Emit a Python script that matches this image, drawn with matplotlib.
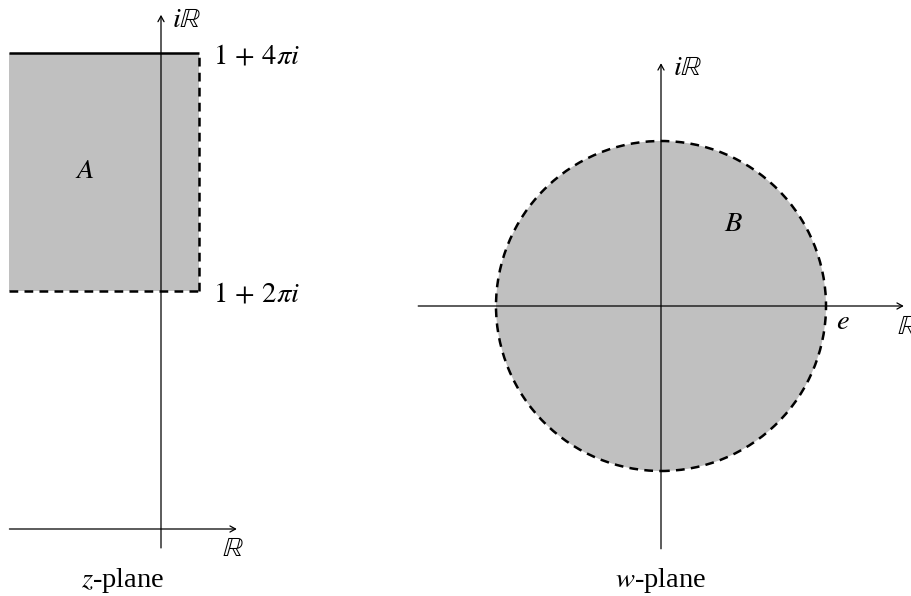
import numpy as np
import matplotlib.pyplot as plt
from matplotlib.patches import Rectangle, Circle

plt.rcParams['mathtext.fontset'] = 'stix'
plt.rcParams['font.family'] = 'Liberation Serif'

# z-plane: strip Re z < 1, 2pi < Im z < 4pi (cut at Re z = -4 in picture)
rect_x = [-4, 1]
rect_y = [2 * np.pi, 4 * np.pi]
z_xaxis = [-4, 2]
z_yaxis = [-0.5, 4 * np.pi + 1]
z_labels = [r'$1\,+\,4\pi i$', r'$1\,+\,2\pi i$']

# w-plane: disc of radius e
radius = np.e
w_axis = [-4, 4]

GRAY = '#c0c0c0'
FS = 20.5

fig = plt.figure(figsize=(9.11, 5.96), dpi=100)

# left panel, 37.9 px per unit, origin at pixel (161, 529)
s1 = 37.9
ax1 = fig.add_axes([0, 0, 320 / 911, 1])
ax1.set_xlim(-161 / s1, (320 - 161) / s1)
ax1.set_ylim(-(596 - 529) / s1, 529 / s1)
ax1.axis('off')

ax1.add_patch(Rectangle((rect_x[0], rect_y[0]), rect_x[1] - rect_x[0],
                        rect_y[1] - rect_y[0], fc=GRAY, ec='none'))
arr = dict(arrowstyle='->,head_length=0.4,head_width=0.22', lw=0.9, color='black',
           shrinkA=0, shrinkB=0)
ax1.annotate('', xy=(z_xaxis[1], 0), xytext=(z_xaxis[0], 0), arrowprops=arr)
ax1.annotate('', xy=(0, z_yaxis[1]), xytext=(0, z_yaxis[0]), arrowprops=arr)
ax1.plot(rect_x, [rect_y[1]] * 2, color='black', lw=1.8, solid_capstyle='butt')
ax1.plot([rect_x[1]] * 2, rect_y, color='black', lw=1.8, ls=(0, (3.5, 2.5)))
ax1.plot(rect_x, [rect_y[0]] * 2, color='black', lw=1.8, ls=(0, (3.5, 2.5)))

ax1.text(0.28, z_yaxis[1] - 0.15, r'$i\mathbb{R}$', fontsize=FS, va='center', ha='left')
ax1.text(1.37, rect_y[1] - 0.12, z_labels[0], fontsize=FS, va='center', ha='left')
ax1.text(1.37, rect_y[0] - 0.12, z_labels[1], fontsize=FS, va='center', ha='left')
ax1.text(-2, 3 * np.pi, r'$A$', fontsize=FS, va='center', ha='center')
ax1.text(1.9, -0.55, r'$\mathbb{R}$', fontsize=FS, va='center', ha='center')
ax1.text(-1.0, -1.35, r'$z$-plane', fontsize=FS, va='center', ha='center')

# right panel, 60.7 px per unit, origin at pixel (661, 306)
s2 = 60.7
ax2 = fig.add_axes([400 / 911, 0, 511 / 911, 1])
ax2.set_xlim(-(661 - 400) / s2, (911 - 661) / s2)
ax2.set_ylim(-(596 - 306) / s2, 306 / s2)
ax2.axis('off')

ax2.add_patch(Circle((0, 0), radius, fc=GRAY, ec='none'))
ax2.annotate('', xy=(w_axis[1], 0), xytext=(w_axis[0], 0), arrowprops=arr)
ax2.annotate('', xy=(0, w_axis[1]), xytext=(0, w_axis[0]), arrowprops=arr)
ax2.add_patch(Circle((0, 0), radius, fc='none', ec='black', lw=1.8,
                     ls=(0, (3.5, 2.5))))

ax2.text(0.2, 3.92, r'$i\mathbb{R}$', fontsize=FS, va='center', ha='left')
ax2.text(1.19, 1.35, r'$B$', fontsize=FS, va='center', ha='center')
ax2.text(3.0, -0.28, r'$e$', fontsize=FS, va='center', ha='center')
ax2.text(4.06, -0.36, r'$\mathbb{R}$', fontsize=FS, va='center', ha='center')
ax2.text(0, -4.53, r'$w$-plane', fontsize=FS, va='center', ha='center')

fig.savefig('out.png', dpi=100)
